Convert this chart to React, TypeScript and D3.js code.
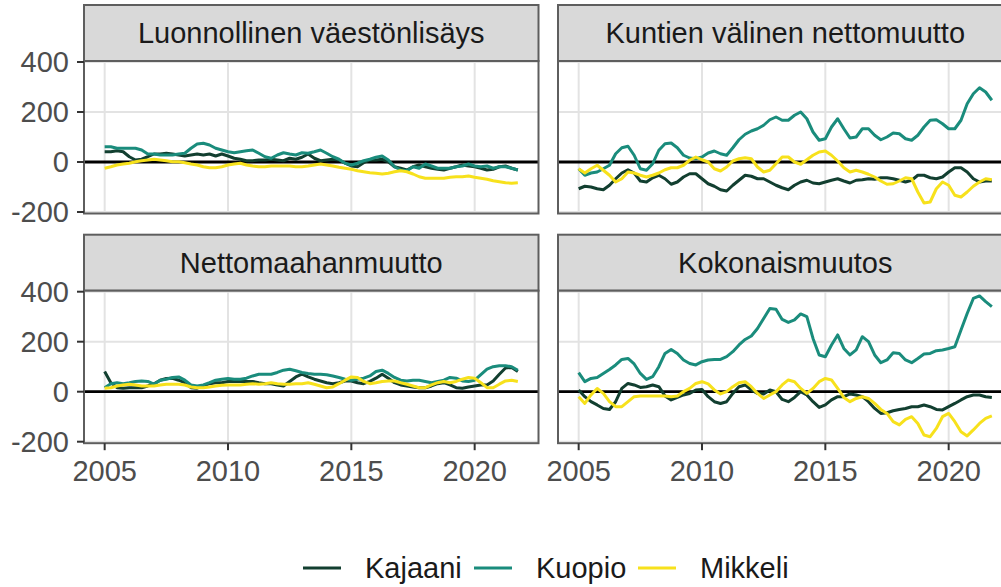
import React from "react";
import * as d3 from "d3";

// Quarterly observations 2005 Q1 .. 2021 Q4
const years: number[] = d3.range(68).map((i) => 2005 + i * 0.25);

const cities = ["Kajaani", "Kuopio", "Mikkeli"];
const cityColors = ["#123f30", "#1a8c7c", "#f7e11c"];

const panelTitles = [
  "Luonnollinen väestönlisäys",
  "Kuntien välinen nettomuutto",
  "Nettomaahanmuutto",
  "Kokonaismuutos",
];

const xTicks = [2005, 2010, 2015, 2020];
const yTicks = [-200, 0, 200, 400];

// Luonnollinen väestönlisäys
const luonKajaani = [41,41,45,41,21,8,11,21,32,32, 35,32,28,24,28,32,28,32,24,32, 24,15,11,5,5,8,8,11,8,5, 15,11,19,32,15,5,8,11,8,-5, -16,-19,-3,8,8,11,1,-19,-25,-32, -19,-12,-19,-25,-29,-32,-25,-19,-12,-16, -19,-25,-32,-29,-19,-16,-25,-32];
const luonKuopio = [61,61,55,55,55,55,48,32,32,28, 28,28,32,35,55,72,75,68,55,48, 41,37,41,45,48,35,21,15,28,37, 32,28,37,35,41,48,35,21,11,-5, -12,-5,5,11,19,24,8,-19,-32,-35, -19,-25,-8,-16,-25,-25,-25,-19,-16,-8, -16,-19,-16,-25,-19,-19,-25,-32];
const luonMikkeli = [-25,-19,-12,-8,-5,1,5,8,11,8, 5,1,1,-3,-8,-12,-19,-23,-23,-19, -12,-8,-5,-12,-16,-19,-19,-16,-16,-16, -16,-19,-19,-16,-12,-8,-12,-16,-21,-25, -29,-35,-39,-43,-45,-48,-45,-39,-35,-39, -48,-59,-65,-65,-65,-65,-61,-59,-59,-56, -61,-65,-69,-75,-79,-83,-85,-83];

// Kuntien välinen nettomuutto
const kuntKajaani = [-107,-97,-100,-107,-111,-93,-67,-44,-31,-44, -76,-80,-63,-53,-67,-89,-80,-60,-47,-47, -67,-87,-97,-111,-116,-93,-73,-53,-57,-67, -67,-80,-93, -103,-111,-93,-80,-73,-84,-87,-80,-73,-67, -76,-84,-73,-71,-67,-69,-63,-63,-67,-73, -80,-73,-53,-53,-63,-67,-60,-40,-23,-23, -40,-67,-80,-76,-76];
const kuntKuopio = [-27,-53,-44,-40,-27,-13,33,57,63,27, -27,-33,-7,47,73,76,57,27,16,13, 20,36,44,33,27,57,89,111,124,133, 147,169,180, 167,167,187,200,173,120,87,93,140,173, 133,96,100,133,133,107,89,100,116,113, 93,87,107,140,167,169,153,133,133,167, 233,273,297,280,247];
const kuntMikkeli = [-27,-44,-27,-13,-33,-53,-80,-67,-40,-44, -53,-60,-53,-44,-31,-23,-23,-13,7,20, 9,0,-27,-36,-20,4,13,17,13,-20, -40,-33,-7, 20,20,0,-9,9,27,40,44,27,4, -23,-40,-33,-40,-49,-60,-76,-89,-87,-76, -63,-67,-120,-164,-160,-107,-80,-93,-133,-140, -120,-97,-80,-67,-71];

// Nettomaahanmuutto
const nettoKajaani = [81,36,16,14,16,16,16,23,32,46, 53,54,46,36,16,14,23,32,36,36, 41,41,41,41,41,36,32,32,27,23, 41,59,70,59,50,43,36,32,36,43, 43,36,32,41,54,70,54,36,27,23, 19,16,16,23,32,36,27,16,14,19, 23,27,27,43,70,95,97,81];
const nettoKuopio = [16,32,36,32,36,41,43,41,30,46, 50,57,59,46,27,23,27,36,46,50, 53,50,50,54,63,70,70,70,77,86, 90,84,77,73,70,70,68,63,57,50, 46,50,54,63,81,86,73,57,46,43, 46,46,41,36,41,46,57,54,43,41, 46,68,90,100,104,104,100,86];
const nettoMikkeli = [14,16,23,27,30,27,23,23,23,27, 30,30,30,27,19,16,16,19,23,26, 27,27,27,30,32,30,32,36,32,30, 30,32,32,36,30,23,16,19,32,46, 59,57,41,32,36,41,43,43,36,30, 23,16,16,27,36,41,36,41,50,57, 54,36,16,16,30,43,46,41];

// Kokonaismuutos
const kokoKajaani = [7,-20,-40,-53,-67,-71,-40,13,33,27, 17,20,27,20,-17,-33,-23,-13,-7,7, 9,-20,-40,-47,-40,-7,20,27,7,-7, -9,7,0, -31,-40,-23,0,-13,-40,-63,-53,-33,-20, -20,-9,-13,-20,-40,-67,-87,-84,-76,-71, -67,-60,-60,-53,-60,-71,-73,-60,-47,-33, -20,-13,-13,-20,-23];
const kokoKuopio = [76,40,53,57,73,89,107,129,133,111, 73,49,60,100,153,169,153,127,113,107, 120,127,129,129,140,160,187,209,223,253, 293,333,330, 289,277,287,311,300,213,147,140,187,227, 173,147,167,220,200,147,116,127,156,153, 127,116,133,151,153,164,167,173,180,247, 313,373,383,360,340];
const kokoMikkeli = [-20,-47,-13,13,-7,-40,-60,-60,-40,-20, -17,-17,-17,-17,-17,-20,-17,0,13,33, 40,31,7,-9,0,20,36,40,20,-7, -27,-13,0, 27,47,40,13,-7,13,40,53,47,13, -23,-40,-27,-20,-27,-47,-71,-87,-120,-133, -111,-100,-127,-173,-180,-147,-100,-87,-120,-160, -177,-153,-127,-107,-97];

const panelSeries = [
  [luonKajaani, luonKuopio, luonMikkeli],
  [kuntKajaani, kuntKuopio, kuntMikkeli],
  [nettoKajaani, nettoKuopio, nettoMikkeli],
  [kokoKajaani, kokoKuopio, kokoMikkeli],
];

const W = 1001;
const H = 587;
const panelW = 454.5;
const panelH = 152.5;
const stripH = 56;
const colX = [84, 558];
const rowY = [61, 290.7];
const FONT = "'Liberation Sans', Arial, Helvetica, sans-serif";
const FS = 29;

export default function App() {
  const x = d3.scaleLinear().domain([2004.1625, 2022.5875]).range([0, panelW]);
  const y = d3.scaleLinear().domain([-206, 404]).range([panelH, 0]);
  const line = d3
    .line<number>()
    .x((_, i) => x(years[i]))
    .y((d) => y(d));

  return (
    <svg
      width={W}
      height={H}
      style={{ position: "absolute", left: 0, top: 0, display: "block", background: "#fff" }}
      fontFamily={FONT}
    >
      <defs>
        {panelTitles.map((_, p) => (
          <clipPath id={`clip${p}`} key={p}>
            <rect x={0} y={0} width={panelW} height={panelH} />
          </clipPath>
        ))}
      </defs>
      {panelTitles.map((title, p) => {
        const col = p % 2;
        const row = Math.floor(p / 2);
        const px = colX[col];
        const py = rowY[row];
        return (
          <g key={p} transform={`translate(${px},${py})`}>
            <rect
              x={0}
              y={-stripH}
              width={panelW}
              height={stripH}
              fill="#d9d9d9"
              stroke="#5e5e5e"
              strokeWidth={2}
            />
            <text
              x={panelW / 2}
              y={-stripH / 2 + 10}
              textAnchor="middle"
              fontSize={FS}
              fill="#1a1a1a"
            >
              {title}
            </text>
            <rect x={0} y={0} width={panelW} height={panelH} fill="#fff" />
            {xTicks.map((t) => (
              <line key={`gx${t}`} x1={x(t)} x2={x(t)} y1={0} y2={panelH} stroke="#e3e3e3" strokeWidth={2} />
            ))}
            {yTicks.map((t) => (
              <line key={`gy${t}`} x1={0} x2={panelW} y1={y(t)} y2={y(t)} stroke="#e3e3e3" strokeWidth={2} />
            ))}
            <g clipPath={`url(#clip${p})`}>
              <line x1={0} x2={panelW} y1={y(0)} y2={y(0)} stroke="#000" strokeWidth={2.8} />
              {panelSeries[p].map((vals, c) => (
                <path
                  key={c}
                  d={line(vals) || ""}
                  fill="none"
                  stroke={cityColors[c]}
                  strokeWidth={3}
                  strokeLinejoin="round"
                />
              ))}
            </g>
            <rect x={0} y={0} width={panelW} height={panelH} fill="none" stroke="#5e5e5e" strokeWidth={2} />
            {col === 0 &&
              yTicks.map((t) => (
                <g key={`yt${t}`}>
                  <line x1={-7} x2={0} y1={y(t)} y2={y(t)} stroke="#333" strokeWidth={2} />
                  <text x={-15} y={y(t) + 10} textAnchor="end" fontSize={FS} fill="#4d4d4d">
                    {t < 0 ? `-${Math.abs(t)}` : `${t}`}
                  </text>
                </g>
              ))}
            {row === 1 &&
              xTicks.map((t) => (
                <g key={`xt${t}`}>
                  <line x1={x(t)} x2={x(t)} y1={panelH} y2={panelH + 7} stroke="#333" strokeWidth={2} />
                  <text x={x(t)} y={panelH + 38} textAnchor="middle" fontSize={FS} fill="#4d4d4d">
                    {t}
                  </text>
                </g>
              ))}
          </g>
        );
      })}
      {cities.map((name, c) => {
        const lx = [303, 474, 638][c];
        return (
          <g key={name}>
            <line x1={lx} x2={lx + 38} y1={568} y2={568} stroke={cityColors[c]} strokeWidth={3} />
            <text x={lx + 62} y={578} fontSize={FS} fill="#1a1a1a">
              {name}
            </text>
          </g>
        );
      })}
    </svg>
  );
}
